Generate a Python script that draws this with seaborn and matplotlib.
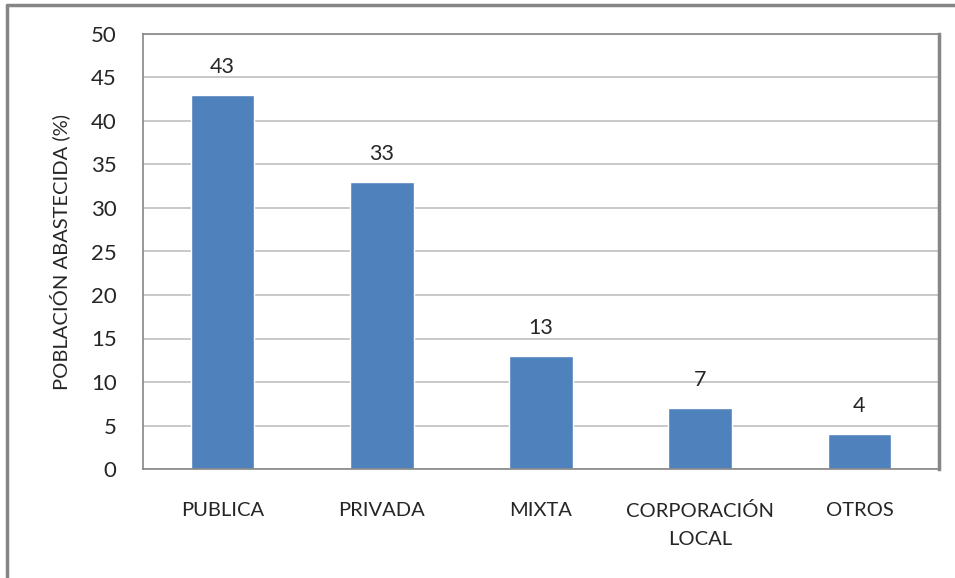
import matplotlib
matplotlib.use("Agg")
import matplotlib.pyplot as plt
import seaborn as sns
from matplotlib.lines import Line2D

# Data
categorias = ["PUBLICA", "PRIVADA", "MIXTA", "CORPORACIÓN\nLOCAL", "OTROS"]
poblacion = [43, 33, 13, 7, 4]

sns.set_style("white")
plt.rcParams["font.family"] = ["Lato", "DejaVu Sans"]

fig = plt.figure(figsize=(9.55, 5.78), dpi=100)
ax = fig.add_axes([143 / 955, 1 - 469 / 578, (939 - 143) / 955, (469 - 34) / 578])

sns.barplot(x=categorias, y=poblacion, color="#4F81BD", saturation=1, width=0.4, ax=ax)

ax.set_ylim(0, 50)
ax.set_yticks(range(0, 51, 5))
ax.yaxis.grid(True, color="#BFBFBF", linewidth=1.2)
ax.set_axisbelow(True)
for side in ["left", "bottom", "top", "right"]:
    ax.spines[side].set_color("#868686")
    ax.spines[side].set_linewidth(1.2)
ax.spines["right"].set_linewidth(2.5)
ax.tick_params(axis="y", labelsize=16, length=0, pad=19)
ax.tick_params(axis="x", labelsize=14.5, length=0, pad=24)
for lbl in ax.get_xticklabels():
    lbl.set_linespacing(1.75)

ax.set_xlabel("")
ax.set_ylabel("POBLACIÓN ABASTECIDA (%)", fontsize=14.5, labelpad=15)

for i, v in enumerate(poblacion):
    ax.annotate(str(v), (i, v), xytext=(0, 13), textcoords="offset points",
                ha="center", va="bottom", fontsize=15.5)

# outer chart frame (top and left edges)
fig.add_artist(Line2D([7 / 955, 1], [1 - 5 / 578, 1 - 5 / 578], color="#868686", linewidth=2.5))
fig.add_artist(Line2D([7 / 955, 7 / 955], [0, 1 - 5 / 578], color="#868686", linewidth=2.5))

fig.savefig("out.png", dpi=100)
